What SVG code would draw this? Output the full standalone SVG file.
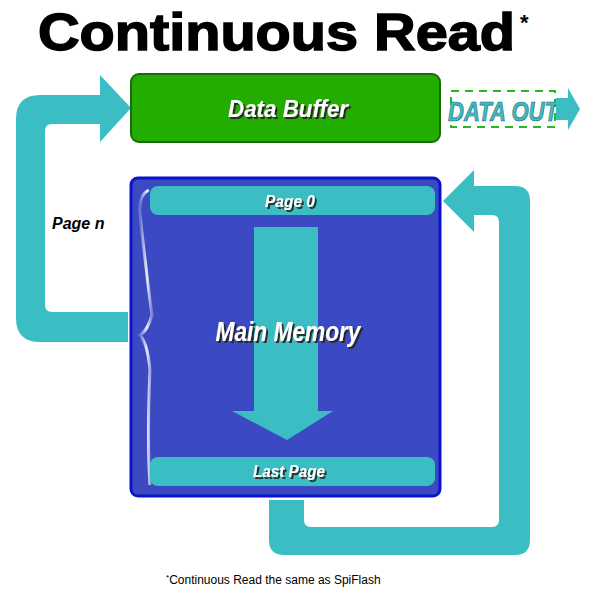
<svg xmlns="http://www.w3.org/2000/svg" width="600" height="602" viewBox="0 0 600 602">
<defs>
<style>
.flow{fill:#3abec3}
.lbl{font-family:"Liberation Sans",Arial,sans-serif;font-weight:bold;font-style:italic;fill:#fff;filter:url(#ds)}
</style>
<filter id="ds" x="-10%" y="-30%" width="120%" height="160%"><feDropShadow dx="2" dy="2" stdDeviation="0.3" flood-color="#222" flood-opacity="0.9"/></filter>
<linearGradient id="gl" x1="0" x2="1"><stop offset="0" stop-color="#fff" stop-opacity="0.2"/><stop offset="0.6" stop-color="#fff" stop-opacity="0.9"/><stop offset="1" stop-color="#fff" stop-opacity="0.3"/></linearGradient>
</defs>
<rect width="600" height="602" fill="#fff"/>
<text x="38" y="50" font-family="'Liberation Sans',Arial,sans-serif" font-weight="bold" font-size="52" fill="#000" stroke="#000" stroke-width="1.5" textLength="477" lengthAdjust="spacingAndGlyphs">Continuous Read</text>
<text x="520" y="30" font-family="'Liberation Sans',Arial,sans-serif" font-weight="bold" font-size="22" fill="#000">*</text>
<g id="connectors">
<path class="flow" d="M128,312 L128,342 L40,342 Q16,342 16,318 L16,119 Q16,95 40,95 L100,95 L100,75 L131,108 L100,142 L100,124 L52,124 Q45,124 45,131 L45,305 Q45,312 52,312 Z"/>
<path class="flow" d="M269,500 L304,500 L304,520 Q304,527 311,527 L492,527 Q499,527 499,520 L499,222 Q499,215 492,215 L474,215 L474,232 L443,201 L474,170 L474,186 L515,186 Q530,186 530,201 L530,540 Q530,555 515,555 L284,555 Q269,555 269,540 Z"/>
<g id="dataout">
<g fill="none" stroke="#22bb22" stroke-width="2" stroke-dasharray="8,6">
<rect x="451" y="91" width="104" height="36"/>
</g>
<text x="448" y="121" font-family="'Liberation Sans',Arial,sans-serif" font-weight="bold" font-style="italic" font-size="28" fill="#3abec3" stroke="#2a6a78" stroke-width="0.7" textLength="110" lengthAdjust="spacingAndGlyphs">DATA OUT</text>
<path class="flow" d="M556,98 L568,98 L568,88 L580,109 L568,130 L568,120 L556,120 Z"/>
</g>
</g>
<g id="buffer">
<rect x="131" y="74" width="309" height="68" rx="8" fill="#22ad00" stroke="#1a6a10" stroke-width="2"/>
<text class="lbl" x="288" y="117" font-size="24" text-anchor="middle" textLength="120" lengthAdjust="spacingAndGlyphs">Data Buffer</text>
</g>
<g id="memory">
<rect x="131" y="178" width="309" height="318" rx="7" fill="#3b4ac2" stroke="#0a14c8" stroke-width="3"/>
<path d="M149,190 Q138,195 140,215 Q146,270 152,315 Q148,330 140,335 Q148,345 150,370 Q147,440 150,485" fill="none" stroke="url(#gl)" stroke-width="3"/>
<rect x="150" y="186" width="285" height="29" rx="8" class="flow"/>
<rect x="150" y="457" width="285" height="29" rx="8" class="flow"/>
<path class="flow" d="M254,227 L318,227 L318,411 L333,411 L287,440 L232,411 L254,411 Z"/>
<text class="lbl" x="290" y="207" font-size="16" text-anchor="middle" textLength="50" lengthAdjust="spacingAndGlyphs">Page 0</text>
<text class="lbl" x="289" y="477" font-size="16" text-anchor="middle" textLength="72" lengthAdjust="spacingAndGlyphs">Last Page</text>
<text class="lbl" x="288" y="341" font-size="28" text-anchor="middle" textLength="145" lengthAdjust="spacingAndGlyphs">Main Memory</text>
</g>
<g id="pagen">
<text x="52" y="229" font-family="'Liberation Sans',Arial,sans-serif" font-weight="bold" font-style="italic" font-size="16" fill="#000">Page  n</text>
</g>
<text x="166" y="584" font-family="'Liberation Sans',Arial,sans-serif" font-size="12" fill="#000"><tspan font-size="8" dy="-4">*</tspan><tspan dy="4">Continuous Read the same as SpiFlash</tspan></text>
</svg>
